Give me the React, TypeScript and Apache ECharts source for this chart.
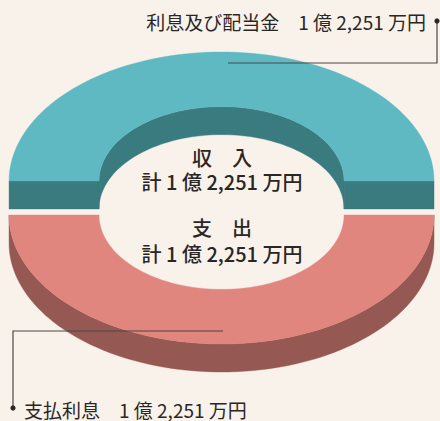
import React, { useEffect, useRef } from 'react';
import * as echarts from 'echarts';

// Data (values in 万円)
const sliceNames = ['利息及び配当金', '支払利息'];
const sliceValues = [12251, 12251];
const groupNames = ['収　入', '支　出'];
const groupTotals = [12251, 12251];

const topColors = ['#5fb9c3', '#e0867f'];
const sideColors = ['#3a7b80', '#955852'];
const BG = '#f8f2eb';
const TEXT = '#2a2624';
const FONT = '"Noto Sans CJK JP", "Noto Sans", sans-serif';

function fmtYen(v: number): string {
  const oku = Math.floor(v / 10000);
  const man = v % 10000;
  return `${oku} 億 ${man.toLocaleString('en-US')} 万円`;
}

export default function App() {
  const ref = useRef<HTMLDivElement>(null);
  useEffect(() => {
    if (!ref.current) return;
    const chart = echarts.init(ref.current, null, { renderer: 'svg' });
    const total = sliceValues.reduce((a, b) => a + b, 0);

    const renderItem = (params: any, api: any) => {
      const i = params.dataIndex;
      let acc = 0;
      for (let k = 0; k < i; k++) acc += sliceValues[k];
      const start = (acc / total) * 2 * Math.PI;
      const end = ((acc + api.value(0)) / total) * 2 * Math.PI;
      const W = api.getWidth();
      const cx0 = W * 0.5035;
      const cy0 = 198;
      const rx = 212.5;
      const tilt = 0.607;
      const ry = rx * tilt;
      const ri = rx * 0.5765;
      const riy = ri * tilt;
      const depth = 28;
      const explode = 17;
      const mid = (start + end) / 2;
      const cx = cx0 + explode * Math.cos(mid);
      const cy = cy0 - explode * Math.sin(mid);
      const pt = (r: number, rr: number, t: number, dz: number) => [
        cx + r * Math.cos(t),
        cy - rr * Math.sin(t) + dz,
      ];
      const arc = (r: number, rr: number, a: number, b: number, dz: number) => {
        const n = Math.max(2, Math.ceil((Math.abs(b - a) / Math.PI) * 90));
        const pts: number[][] = [];
        for (let j = 0; j <= n; j++) pts.push(pt(r, rr, a + ((b - a) * j) / n, dz));
        return pts;
      };
      const children: any[] = [];
      const poly = (points: number[][], fill: string) =>
        children.push({ type: 'polygon', shape: { points }, style: { fill, stroke: fill, lineWidth: 0.4 } });
      // inner back wall
      const ia = Math.max(start, 0), ib = Math.min(end, Math.PI);
      if (ib > ia) poly(arc(ri, riy, ia, ib, 0).concat(arc(ri, riy, ib, ia, depth)), sideColors[i]);
      // cut faces
      if (Math.cos(start) > 1e-6)
        poly([pt(ri, riy, start, 0), pt(rx, ry, start, 0), pt(rx, ry, start, depth), pt(ri, riy, start, depth)], sideColors[i]);
      if (Math.cos(end) < -1e-6)
        poly([pt(ri, riy, end, 0), pt(rx, ry, end, 0), pt(rx, ry, end, depth), pt(ri, riy, end, depth)], sideColors[i]);
      // outer front wall
      const oa = Math.max(start, Math.PI), ob = Math.min(end, 2 * Math.PI);
      if (ob > oa) poly(arc(rx, ry, oa, ob, 0).concat(arc(rx, ry, ob, oa, depth)), sideColors[i]);
      // top face
      poly(arc(rx, ry, start, end, 0).concat(arc(ri, riy, end, start, 0)), topColors[i]);
      return { type: 'group', children };
    };

    const lineStyle = { stroke: '#4a4644', lineWidth: 1.2, fill: null };
    const centerStyle = (text: string, lh: number) => ({
      text, fill: TEXT, font: `500 20px ${FONT}`, lineHeight: lh,
      textAlign: 'center', textVerticalAlign: 'middle',
    });
    chart.setOption({
      animation: false,
      backgroundColor: BG,
      series: [
        {
          type: 'custom',
          coordinateSystem: 'none',
          renderItem,
          data: sliceValues.map((v, i) => ({ name: sliceNames[i], value: v })),
          silent: true,
        },
      ],
      graphic: [
        // top label
        { type: 'polyline', shape: { points: [[437, 21], [437, 63], [228, 63]] }, style: lineStyle, z: 10 },
        { type: 'circle', shape: { cx: 437, cy: 21, r: 2.6 }, style: { fill: '#2a2624' }, z: 10 },
        {
          type: 'text', x: 426, y: 21, z: 10,
          style: { text: `${sliceNames[0]}　${fmtYen(sliceValues[0])}`, fill: TEXT, font: `19px ${FONT}`, textAlign: 'right', textVerticalAlign: 'middle' },
        },
        // bottom label
        { type: 'polyline', shape: { points: [[223, 331], [13, 331], [13, 408]] }, style: lineStyle, z: 10 },
        { type: 'circle', shape: { cx: 13, cy: 408, r: 2.6 }, style: { fill: '#2a2624' }, z: 10 },
        {
          type: 'text', x: 24, y: 409, z: 10,
          style: { text: `${sliceNames[1]}　${fmtYen(sliceValues[1])}`, fill: TEXT, font: `19px ${FONT}`, textAlign: 'left', textVerticalAlign: 'middle' },
        },
        // center texts
        { type: 'text', x: 222, y: 169, z: 10, style: centerStyle(`${groupNames[0]}\n計 ${fmtYen(groupTotals[0])}`, 24) },
        { type: 'text', x: 222, y: 240, z: 10, style: centerStyle(`${groupNames[1]}\n計 ${fmtYen(groupTotals[1])}`, 26) },
      ],
    });
    return () => chart.dispose();
  }, []);
  return (
    <div
      ref={ref}
      style={{ position: 'fixed', left: 0, top: 0, width: 440, height: 421, background: BG }}
    />
  );
}
